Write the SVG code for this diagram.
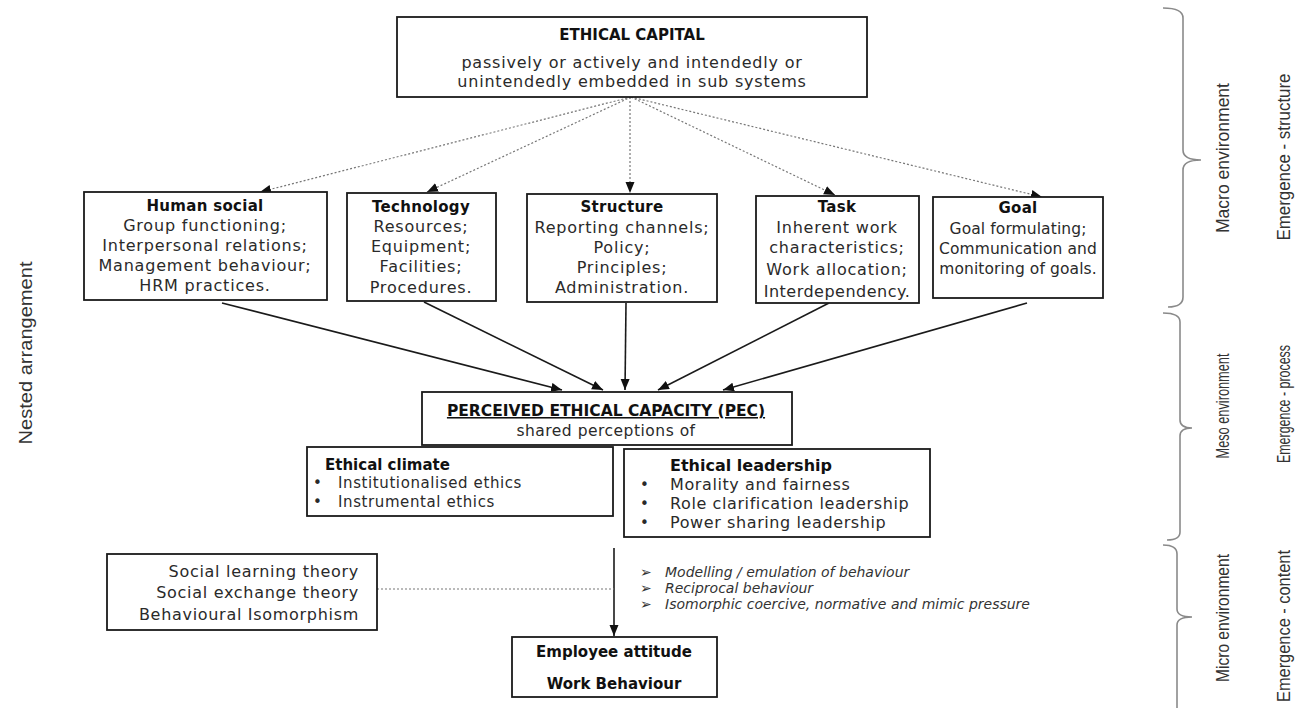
<svg xmlns="http://www.w3.org/2000/svg" width="1303" height="708" viewBox="0 0 1303 708">
<style>
.box{fill:#fff;stroke:#1a1a1a;stroke-width:1.8}
.t{font-family:"DejaVu Sans",sans-serif;fill:#2a2a2a}
.b{font-weight:bold;fill:#111}
.mid{text-anchor:middle}
.body{font-size:16px;letter-spacing:0.8px}
.ttl{font-size:15px;letter-spacing:0.3px}
.solid{stroke:#1a1a1a;stroke-width:1.6;fill:none}
.dot{stroke:#777;stroke-width:1.2;stroke-dasharray:2 2;fill:none}
.brace{stroke:#8a8a8a;stroke-width:1.6;fill:none}
.side{font-family:"Liberation Sans",Arial,sans-serif;font-size:18px;fill:#333;text-anchor:middle}
.it{font-family:"DejaVu Sans",sans-serif;font-size:14px;font-style:italic;fill:#333}
</style>
<defs>
<marker id="ah" markerUnits="userSpaceOnUse" markerWidth="12" markerHeight="10" refX="11" refY="4.5" orient="auto"><path d="M0,0 L11,4.5 L0,9 z" fill="#111"/></marker>
<marker id="ahd" markerUnits="userSpaceOnUse" markerWidth="12" markerHeight="10" refX="11" refY="4.5" orient="auto"><path d="M0,0 L11,4.5 L0,9 z" fill="#111"/></marker>
</defs>

<g id="connectors">
<line class="dot" x1="631" y1="97" x2="260" y2="192" marker-end="url(#ahd)"/>
<line class="dot" x1="631" y1="97" x2="427" y2="192" marker-end="url(#ahd)"/>
<line class="dot" x1="630" y1="97" x2="630" y2="193" marker-end="url(#ahd)"/>
<line class="dot" x1="631" y1="97" x2="835" y2="195" marker-end="url(#ahd)"/>
<line class="dot" x1="631" y1="97" x2="1042" y2="197" marker-end="url(#ahd)"/>
<line class="solid" x1="222" y1="303" x2="562" y2="390" marker-end="url(#ah)"/>
<line class="solid" x1="424" y1="302" x2="603" y2="390" marker-end="url(#ah)"/>
<line class="solid" x1="626" y1="303" x2="625" y2="390" marker-end="url(#ah)"/>
<line class="solid" x1="829" y1="303" x2="658" y2="390" marker-end="url(#ah)"/>
<line class="solid" x1="1027" y1="303" x2="723" y2="390" marker-end="url(#ah)"/>
<line class="solid" x1="614" y1="548" x2="614" y2="636" marker-end="url(#ah)"/>
<line class="dot" x1="377" y1="589" x2="614" y2="589"/>
</g>

<g id="ethical-capital">
<rect class="box" x="397" y="17" width="470" height="80"/>
<text class="t b mid" x="632" y="40" font-size="15">ETHICAL CAPITAL</text>
<text class="t mid" x="632" y="68" font-size="16" letter-spacing="0.8">passively or actively and intendedly or</text>
<text class="t mid" x="632" y="87" font-size="16" letter-spacing="0.8">unintendedly embedded in sub systems</text>
</g>

<g id="human-social">
<rect class="box" x="84" y="192" width="243" height="108"/>
<text class="t b mid ttl" x="205" y="211">Human social</text>
<text class="t mid body" x="205" y="231">Group functioning;</text>
<text class="t mid body" x="205" y="251">Interpersonal relations;</text>
<text class="t mid body" x="205" y="271">Management behaviour;</text>
<text class="t mid body" x="205" y="291">HRM practices.</text>
</g>

<g id="technology">
<rect class="box" x="347" y="193" width="149" height="108"/>
<text class="t b mid ttl" x="421" y="212">Technology</text>
<text class="t mid body" x="421" y="232">Resources;</text>
<text class="t mid body" x="421" y="252">Equipment;</text>
<text class="t mid body" x="421" y="272">Facilities;</text>
<text class="t mid body" x="421" y="293">Procedures.</text>
</g>

<g id="structure">
<rect class="box" x="527" y="194" width="190" height="108"/>
<text class="t b mid ttl" x="622" y="212">Structure</text>
<text class="t mid body" x="622" y="233">Reporting channels;</text>
<text class="t mid body" x="622" y="253">Policy;</text>
<text class="t mid body" x="622" y="273">Principles;</text>
<text class="t mid body" x="622" y="293">Administration.</text>
</g>

<g id="task">
<rect class="box" x="756" y="196" width="163" height="107"/>
<text class="t b mid ttl" x="837" y="212">Task</text>
<text class="t mid body" x="837" y="233">Inherent work</text>
<text class="t mid body" x="837" y="253">characteristics;</text>
<text class="t mid body" x="837" y="275">Work allocation;</text>
<text class="t mid" x="837" y="297" font-size="16" letter-spacing="0.5">Interdependency.</text>
</g>

<g id="goal">
<rect class="box" x="933" y="197" width="170" height="101"/>
<text class="t b mid ttl" x="1018" y="213">Goal</text>
<text class="t mid" x="1018" y="234" font-size="15.5" letter-spacing="0.1">Goal formulating;</text>
<text class="t mid" x="1018" y="254" font-size="15.5" letter-spacing="0.1">Communication and</text>
<text class="t mid" x="1018" y="274" font-size="15.5" letter-spacing="0.1">monitoring of goals.</text>
</g>

<g id="pec">
<rect class="box" x="422" y="392" width="370" height="53"/>
<text class="t b mid" x="606" y="416" font-size="15.5" text-decoration="underline">PERCEIVED ETHICAL CAPACITY (PEC)</text>
<text class="t mid" x="606" y="436" font-size="15.5" letter-spacing="0.5">shared perceptions of</text>
</g>

<g id="ethical-climate">
<rect class="box" x="307" y="447" width="306" height="69"/>
<text class="t b" x="325" y="470" font-size="15">Ethical climate</text>
<text class="t" x="313" y="488" font-size="15">•</text>
<text class="t" x="338" y="488" font-size="15" letter-spacing="0.6">Institutionalised ethics</text>
<text class="t" x="313" y="507" font-size="15">•</text>
<text class="t" x="338" y="507" font-size="15" letter-spacing="0.6">Instrumental ethics</text>
</g>

<g id="ethical-leadership">
<rect class="box" x="624" y="449" width="306" height="88"/>
<text class="t b" x="670" y="471" font-size="16">Ethical leadership</text>
<text class="t" x="640" y="490" font-size="15">•</text>
<text class="t" x="670" y="490" font-size="16" letter-spacing="0.6">Morality and fairness</text>
<text class="t" x="640" y="509" font-size="15">•</text>
<text class="t" x="670" y="509" font-size="16" letter-spacing="0.6">Role clarification leadership</text>
<text class="t" x="640" y="528" font-size="15">•</text>
<text class="t" x="670" y="528" font-size="16" letter-spacing="0.6">Power sharing leadership</text>
</g>

<g id="theories">
<rect class="box" x="107" y="554" width="270" height="76"/>
<text class="t" x="359" y="577" font-size="16" letter-spacing="0.7" text-anchor="end">Social learning theory</text>
<text class="t" x="359" y="598" font-size="16" letter-spacing="0.7" text-anchor="end">Social exchange theory</text>
<text class="t" x="359" y="620" font-size="16" letter-spacing="0.7" text-anchor="end">Behavioural Isomorphism</text>
</g>

<g id="mechanisms">
<text class="it" x="640" y="577">➢</text>
<text class="it" x="665" y="577">Modelling / emulation of behaviour</text>
<text class="it" x="640" y="593">➢</text>
<text class="it" x="665" y="593">Reciprocal behaviour</text>
<text class="it" x="640" y="609">➢</text>
<text class="it" x="665" y="609">Isomorphic coercive, normative and mimic pressure</text>
</g>

<g id="employee">
<rect class="box" x="512" y="637" width="205" height="60"/>
<text class="t b mid" x="614" y="657" font-size="15">Employee attitude</text>
<text class="t b mid" x="614" y="689" font-size="15">Work Behaviour</text>
</g>

<g id="levels">
<path class="brace" d="M1163,8 Q1183,8 1183,18 L1183,150 Q1183,160 1201,160 Q1183,160 1183,170 L1183,297 Q1183,307 1168,307"/>
<path class="brace" d="M1163,313 Q1180,313 1180,322 L1180,420 Q1180,428 1192,428 Q1180,428 1180,436 L1180,532 Q1180,540 1167,540"/>
<path class="brace" d="M1163,545 Q1177,545 1177,554 L1177,609 Q1177,617 1192,617 Q1177,617 1177,625 L1177,708"/>
<text class="side" transform="translate(1229,158) rotate(-90)" textLength="150" lengthAdjust="spacingAndGlyphs">Macro environment</text>
<text class="side" transform="translate(1290,157) rotate(-90)" textLength="167" lengthAdjust="spacingAndGlyphs">Emergence - structure</text>
<text class="side" transform="translate(1229,406) rotate(-90)" textLength="105" lengthAdjust="spacingAndGlyphs">Meso environment</text>
<text class="side" transform="translate(1290,404) rotate(-90)" textLength="118" lengthAdjust="spacingAndGlyphs">Emergence - process</text>
<text class="side" transform="translate(1229,618) rotate(-90)" textLength="128" lengthAdjust="spacingAndGlyphs">Micro environment</text>
<text class="side" transform="translate(1290,626) rotate(-90)" textLength="152" lengthAdjust="spacingAndGlyphs">Emergence - content</text>
</g>

<g id="nested">
<text class="side" transform="translate(32,353) rotate(-90)" textLength="183" lengthAdjust="spacingAndGlyphs">Nested arrangement</text>
</g>
</svg>
